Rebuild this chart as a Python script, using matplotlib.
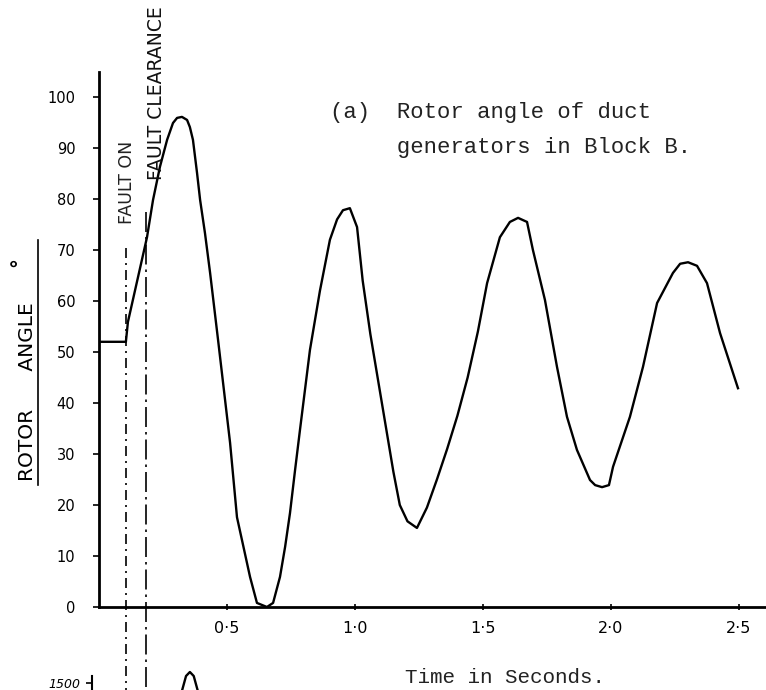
import numpy as np
import matplotlib.pyplot as plt

plt.rcParams['font.family'] = 'DejaVu Sans'

# rotor angle of duct generators (Block B)
time_s = [0.0, 0.105, 0.113, 0.1875, 0.211, 0.238, 0.266, 0.289, 0.305, 0.324,
          0.344, 0.355, 0.367, 0.383, 0.395, 0.414, 0.434, 0.465, 0.512, 0.539,
          0.59, 0.617, 0.656, 0.68, 0.707, 0.727, 0.746, 0.766, 0.785, 0.824,
          0.863, 0.902, 0.930, 0.953, 0.98, 1.008, 1.03, 1.06, 1.09, 1.12,
          1.15, 1.175, 1.205, 1.242, 1.281, 1.32, 1.36, 1.40, 1.44, 1.48,
          1.516, 1.566, 1.605, 1.637, 1.672, 1.695, 1.742, 1.789, 1.828, 1.867,
          1.918, 1.938, 1.965, 1.992, 2.008, 2.074, 2.125, 2.18, 2.242, 2.27,
          2.301, 2.336, 2.375, 2.426, 2.496]
rotor_angle = [52, 52, 55.9, 72.5, 79.8, 86.3, 91.6, 94.9, 95.9, 96.1,
               95.5, 94.1, 91.6, 85.1, 79.8, 73.3, 65.5, 52.4, 32.2, 17.6,
               5.9, 0.8, 0.0, 0.8, 5.9, 11.8, 18.4, 26.9, 34.7, 50.4,
               62.0, 72.0, 76.0, 77.8, 78.2, 74.5, 64.0, 53.5, 44.5, 35.5,
               26.5, 20.0, 16.8, 15.5, 19.5, 25.0, 31.0, 37.5, 45.0, 54.0,
               63.5, 72.5, 75.5, 76.3, 75.5, 70.0, 60.2, 47.1, 37.3, 30.8,
               24.9, 23.9, 23.5, 23.9, 27.5, 37.3, 47.1, 59.6, 65.5, 67.3,
               67.6, 66.9, 63.5, 53.7, 42.9]

fault_on = 0.105
fault_clear = 0.184

x_ticks = [0.5, 1.0, 1.5, 2.0, 2.5]
x_tick_labels = ['0·5', '1·0', '1·5', '2·0', '2·5']
y_ticks = list(range(0, 101, 10))

# top of the next panel (cut off at the bottom of the page)
lower_t = [0.31, 0.325, 0.34, 0.355, 0.37, 0.385, 0.40]
lower_v = [1250, 1430, 1570, 1610, 1570, 1430, 1250]

W, H = 766, 690
fig = plt.figure(figsize=(W / 100, H / 100), dpi=100)


def fx(x):
    return x / W


def fy(y):
    return 1 - y / H


# main panel
ax = fig.add_axes([fx(99), fy(607), 1 - fx(99), (607 - 72) / H])
ax.plot(time_s, rotor_angle, color='black', lw=1.7, solid_joinstyle='round')
ax.set_xlim(0, (W - 99) / 256)
ax.set_ylim(0, (607 - 72) / 5.1)

ax.set_xticks(x_ticks)
ax.set_xticklabels(x_tick_labels, fontsize=11.5)
ax.set_yticks(y_ticks)
ax.set_yticklabels([str(v) for v in y_ticks], fontsize=10.5)
ax.tick_params(axis='y', direction='out', length=4, width=1.2, pad=13)
ax.tick_params(axis='x', direction='inout', length=4, width=1.2, pad=8)
for s in ['top', 'right']:
    ax.spines[s].set_visible(False)
for s in ['left', 'bottom']:
    ax.spines[s].set_linewidth(2)

# fault markers
ax.plot([fault_on, fault_on], [70.4, -17], color='black', lw=1.2,
        linestyle=(0, (6, 3, 1.2, 3)), clip_on=False)
ax.plot([fault_clear, fault_clear], [77.5, -17], color='black', lw=1.2,
        linestyle=(0, (12, 3, 1.5, 3)), clip_on=False)
ax.text(fault_on + 0.004, 83.3, 'FAULT ON', rotation=90, ha='center', va='center',
        fontsize=12.5, color='#222222')
ax.text(fault_clear + 0.04, 100.8, 'FAULT CLEARANCE', rotation=90,
        ha='center', va='center', fontsize=13.5, color='#111111', clip_on=False)

# lower panel, mostly off the page
ax2 = fig.add_axes([fx(92), fy(833), 1 - fx(92), (833 - 676) / H])
ax2.plot(lower_t, lower_v, color='black', lw=1.7, clip_on=False)
ax2.set_xlim(-7 / 256, (W - 99) / 256)
ax2.set_ylim(0, 1570)
ax2.set_xticks([])
ax2.set_yticks([1500])
ax2.set_yticklabels(['1500'], fontsize=9, style='italic')
ax2.tick_params(axis='y', direction='out', length=4, width=1.2, pad=4)
for s in ['top', 'right', 'bottom']:
    ax2.spines[s].set_visible(False)
ax2.spines['left'].set_linewidth(1.5)
ax2.patch.set_visible(False)

# y label with hand-drawn underline
fig.text(fx(28), fy(392), 'ROTOR      ANGLE', rotation=90, ha='center',
         va='center', fontsize=14.5)
fig.text(fx(19), fy(262), '°', rotation=90, ha='center', va='center',
         fontsize=14, fontweight='bold')
fig.add_artist(plt.Line2D([fx(38), fx(38)], [fy(240), fy(485)],
                          color='black', lw=1.2))

# typed captions
fig.text(fx(330), fy(118), '(a)  Rotor angle of duct', family='Liberation Mono',
         fontsize=16, va='baseline', ha='left', color='#222222')
fig.text(fx(330), fy(153), '     generators in Block B.', family='Liberation Mono',
         fontsize=16, va='baseline', ha='left', color='#222222')
fig.text(fx(405), fy(683), 'Time in Seconds.', family='Liberation Mono',
         fontsize=15, va='baseline', ha='left', color='#222222')

fig.savefig('out.png', dpi=100)
